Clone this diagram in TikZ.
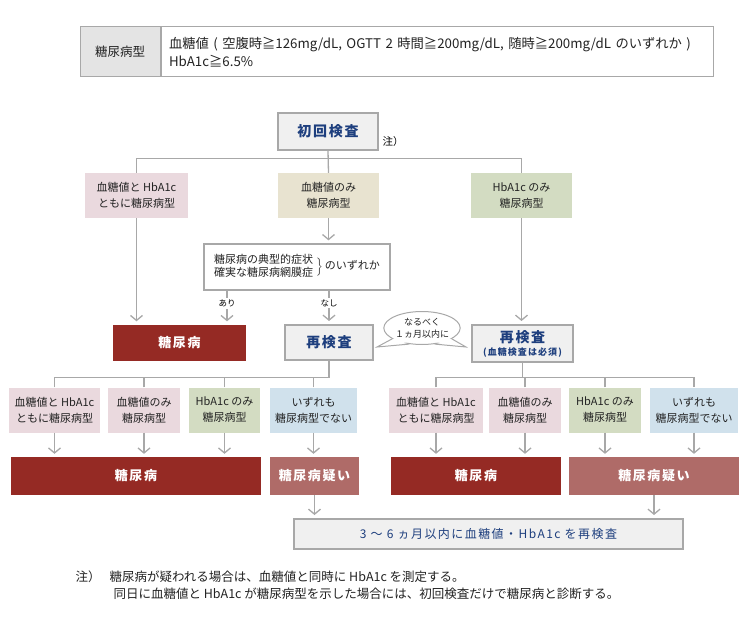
\documentclass[tikz,border=0pt]{standalone}
\usepackage{fontspec}
\setmainfont{Noto Sans CJK JP}
\newfontfamily\spacedfont{Noto Sans CJK JP}[LetterSpace=12]
\usetikzlibrary{arrows.meta,calc,shapes.geometric}

\definecolor{linegray}{HTML}{A8A8A8}
\definecolor{testgray}{HTML}{F0F0F0}
\definecolor{cellgray}{HTML}{E4E4E4}
\definecolor{pinkbox}{HTML}{EAD9DE}
\definecolor{beigebox}{HTML}{E8E3D0}
\definecolor{greenbox}{HTML}{D3DCC2}
\definecolor{bluebox}{HTML}{D0E1EC}
\definecolor{dmred}{HTML}{952A24}
\definecolor{susred}{HTML}{AF6B68}
\definecolor{navy}{HTML}{1E3F7E}
\definecolor{ink}{HTML}{222222}

\begin{document}
\begin{tikzpicture}[x=1pt,y=-1pt,
    line/.style={draw=linegray,line width=1.3pt},
    arr/.style={line,-{Straight Barb[length=5pt,width=12pt]},shorten >=3pt},
    box/.style={minimum height=45pt,inner sep=0pt,align=center,text=ink,
        font=\fontsize{11}{16}\selectfont},
    testbox/.style={draw=linegray,line width=2pt,fill=testgray,inner sep=0pt,
        align=center,text=navy,font=\spacedfont\bfseries\fontsize{14}{16}\selectfont},
    dxbox/.style={minimum height=38pt,inner sep=0pt,text=white,
        font=\spacedfont\bfseries\fontsize{13}{16}\selectfont},
    lab/.style={fill=white,inner sep=1.5pt,font=\fontsize{8.5}{10}\selectfont}]
    \useasboundingbox (0,0) rectangle (750,623);

    % Definition
    \node[box,draw=linegray,line width=1pt,fill=cellgray,minimum width=80pt,
        minimum height=50pt,font=\fontsize{12.5}{14}\selectfont] (typelab) at (120,52) {糖尿病型};
    \node[box,draw=linegray,line width=1pt,anchor=west,align=left,text width=536pt,
        inner xsep=8pt,minimum height=50pt,font=\fontsize{13.3}{18}\selectfont] (typedef)
        at (typelab.east) {血糖値 ( 空腹時≧126mg/dL, OGTT 2 時間≧200mg/dL, 随時≧200mg/dL のいずれか )\\HbA1c≧6.5\%};

    % First test
    \node[testbox,minimum width=100pt,minimum height=37pt] (first) at (328,131.5) {初回検査};
    \node[font=\fontsize{10.5}{12}\selectfont] (notemark) at (393,142) {注）};
    \node[box,fill=pinkbox,minimum width=103pt] (bothtype) at (136.5,195.5) {血糖値と HbA1c\\ともに糖尿病型};
    \node[box,fill=beigebox,minimum width=101pt] (bgonly) at (328.5,195.5) {血糖値のみ\\糖尿病型};
    \node[box,fill=greenbox,minimum width=101pt] (a1conly) at (521.5,195.5) {HbA1c のみ\\糖尿病型};
    \node[draw=linegray,line width=1.3pt,fill=white,minimum width=186pt,minimum height=46pt,
        inner sep=0pt,text=ink,font=\fontsize{11}{13}\selectfont] (symptom) at (297,267)
        {\begin{tabular}{@{}l@{}}糖尿病の典型的症状\\確実な糖尿病網膜症\end{tabular}\hspace{3pt}$\Big\}$\hspace{2pt}のいずれか};
    \node[dxbox,fill=dmred,minimum width=133pt,minimum height=36pt] (dmfirst) at (179.5,342.5) {糖尿病};
    \node[testbox,minimum width=88pt,minimum height=35pt] (retestL) at (329,342.5) {再検査};
    \node[testbox,minimum width=101pt,minimum height=37pt] (retestR) at (522.5,343.5)
        {再検査\\[-3pt]{\fontsize{9}{11}\selectfont (血糖検査は必須)}};

    % Bubble
    \node[ellipse,draw=linegray,line width=1pt,fill=white,minimum width=72pt,minimum height=33pt,
        inner sep=0pt,align=center,text=ink,font=\fontsize{9}{12}\selectfont] (memo) at (422,328)
        {なるべく\\１ヵ月以内に};
    \coordinate (tipL) at (377,347);
    \coordinate (tipR) at (466,347);
    \fill[white] ($(memo.center)!0.85!(memo.200)$) -- (tipL) -- ($(memo.center)!0.85!(memo.232)$) -- cycle;
    \fill[white] ($(memo.center)!0.85!(memo.-20)$) -- (tipR) -- ($(memo.center)!0.85!(memo.-52)$) -- cycle;
    \draw[linegray,line width=1pt] (memo.200) -- (tipL) -- (memo.232);
    \draw[linegray,line width=1pt] (memo.-20) -- (tipR) -- (memo.-52);

    % Second row
    \node[box,fill=pinkbox,minimum width=91pt] (l1) at (54.5,410) {血糖値と HbA1c\\ともに糖尿病型};
    \node[box,fill=pinkbox,minimum width=72pt] (l2) at (144,410) {血糖値のみ\\糖尿病型};
    \node[box,fill=greenbox,minimum width=71pt] (l3) at (224.5,410) {HbA1c のみ\\糖尿病型};
    \node[box,fill=bluebox,minimum width=87pt] (l4) at (313.5,410) {いずれも\\糖尿病型でない};
    \node[box,fill=pinkbox,minimum width=94pt] (r1) at (436,410) {血糖値と HbA1c\\ともに糖尿病型};
    \node[box,fill=pinkbox,minimum width=72pt] (r2) at (525,410) {血糖値のみ\\糖尿病型};
    \node[box,fill=greenbox,minimum width=72pt] (r3) at (605,410) {HbA1c のみ\\糖尿病型};
    \node[box,fill=bluebox,minimum width=88pt] (r4) at (694,410) {いずれも\\糖尿病型でない};

    % Results
    \node[dxbox,fill=dmred,minimum width=250pt] (dmL) at (136,476) {糖尿病};
    \node[dxbox,fill=susred,minimum width=89pt] (susL) at (314.5,476) {糖尿病疑い};
    \node[dxbox,fill=dmred,minimum width=170pt] (dmR) at (476,476) {糖尿病};
    \node[dxbox,fill=susred,minimum width=170pt] (susR) at (654,476) {糖尿病疑い};
    \node[draw=linegray,line width=2pt,fill=testgray,minimum width=389pt,minimum height=30pt,
        text=navy,font=\spacedfont\fontsize{12}{14}\selectfont] (recheck) at (488.5,534)
        {3 ～ 6 ヵ月以内に血糖値・HbA1c を再検査};

    % Connectors
    \draw[line] (first.south) -- (bgonly.north);
    \draw[line] (bothtype.north) -- ++(0,-14) -| (a1conly.north);
    \draw[arr] (bgonly.south) -- (bgonly.south |- symptom.north);
    \draw[arr] (bothtype.south) -- (bothtype.south |- dmfirst.north);
    \draw[arr] ([xshift=-70pt]symptom.south) -- node[lab,pos=0.38] {あり}
        ([xshift=-70pt]symptom.south |- dmfirst.north);
    \draw[arr] (retestL.north |- symptom.south) -- node[lab,pos=0.38] {なし} (retestL.north);
    \draw[arr] (a1conly.south) -- (a1conly.south |- retestR.north);

    \draw[line] (retestL.south) -- ++(0,17);
    \draw[line] (l1.north) -- ++(0,-10) -| (retestL.south);
    \foreach \b in {l2,l3,l4} \draw[line] (\b.north) -- ++(0,-10);
    \draw[line] (retestR.south) -- ++(0,15);
    \draw[line] (r1.north) -- ++(0,-10) -| (r4.north);
    \foreach \b in {r2,r3} \draw[line] (\b.north) -- ++(0,-10);

    \foreach \b in {l1,l2,l3} \draw[arr] (\b.south) -- (\b.south |- dmL.north);
    \draw[arr] (l4.south) -- (l4.south |- susL.north);
    \foreach \b in {r1,r2} \draw[arr] (\b.south) -- (\b.south |- dmR.north);
    \foreach \b in {r3,r4} \draw[arr] (\b.south) -- (\b.south |- susR.north);
    \draw[arr] (susL.south) -- (susL.south |- recheck.north);
    \draw[arr] (susR.south) -- (susR.south |- recheck.north);

    % Note
    \node[anchor=west,text=ink,font=\fontsize{12.5}{14}\selectfont] (notehead) at (72,577) {注）};
    \node[anchor=west,text=ink,font=\fontsize{12.5}{14}\selectfont] (note1) at (106,577)
        {糖尿病が疑われる場合は、血糖値と同時に HbA1c を測定する。};
    \node[anchor=west,text=ink,font=\fontsize{12.5}{14}\selectfont] (note2) at (110,594)
        {同日に血糖値と HbA1c が糖尿病型を示した場合には、初回検査だけで糖尿病と診断する。};
\end{tikzpicture}
\end{document}
